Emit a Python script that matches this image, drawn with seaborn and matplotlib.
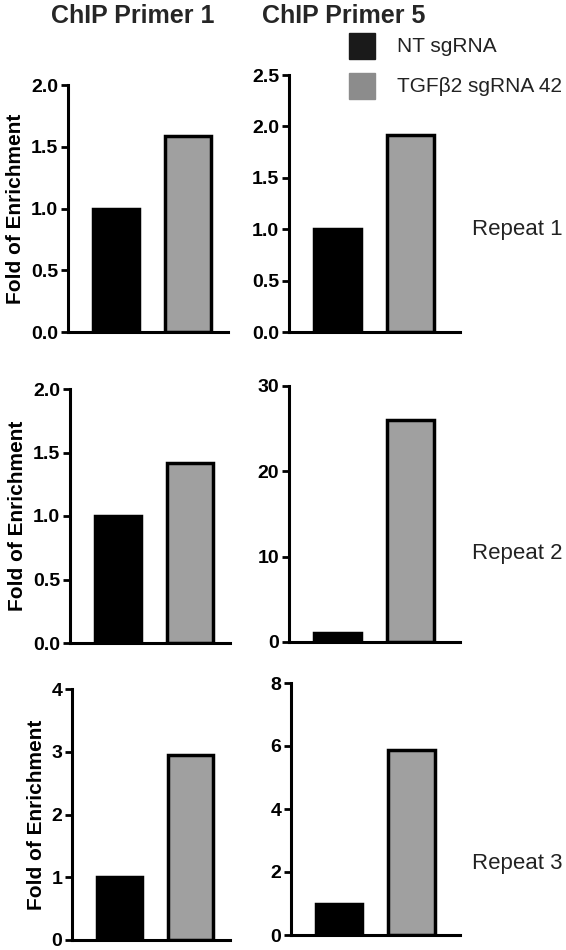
import pandas as pd
import matplotlib
matplotlib.use("Agg")
import matplotlib.pyplot as plt
import seaborn as sns

sns.set_theme(style="ticks")
plt.rcParams['font.family'] = ['Liberation Sans', 'DejaVu Sans']

groups = ['NT sgRNA', 'TGFβ2 sgRNA 42']
primers = ['ChIP Primer 1', 'ChIP Primer 5']
repeats = ['Repeat 1', 'Repeat 2', 'Repeat 3']

primer1_values = [[1.0, 1.59], [1.0, 1.42], [1.0, 2.95]]
primer5_values = [[1.0, 1.92], [1.0, 26.0], [1.0, 5.86]]

primer1_ylim = [2.0, 2.0, 4]
primer5_ylim = [2.5, 30, 8]
primer1_ticks = [[0, 0.5, 1.0, 1.5, 2.0], [0, 0.5, 1.0, 1.5, 2.0], [0, 1, 2, 3, 4]]
primer5_ticks = [[0, 0.5, 1.0, 1.5, 2.0, 2.5], [0, 10, 20, 30], [0, 2, 4, 6, 8]]

colors = {'NT sgRNA': '#000000', 'TGFβ2 sgRNA 42': '#a0a0a0'}

rows = []
for r, rep in enumerate(repeats):
    for g, grp in enumerate(groups):
        rows.append({'repeat': rep, 'primer': primers[0], 'group': grp, 'value': primer1_values[r][g]})
        rows.append({'repeat': rep, 'primer': primers[1], 'group': grp, 'value': primer5_values[r][g]})
df = pd.DataFrame(rows)

W, H = 566, 950
fig = plt.figure(figsize=(W / 100, H / 100), dpi=100)

# axes boxes in pixels: (x_left, y_top, x_right, y_bottom)
boxes = {
    (0, 0): (68, 85, 228, 332), (0, 1): (289, 75, 460, 332),
    (1, 0): (70, 389, 230, 643), (1, 1): (289, 386, 460, 642),
    (2, 0): (72, 689, 230, 940), (2, 1): (291, 683, 460, 935),
}
xlims = [(-0.67, 1.56), (-0.66, 1.67)]
label_y = {0: 230, 1: 553, 2: 863}

for r, rep in enumerate(repeats):
    for c, prim in enumerate(primers):
        x0, y0, x1, y1 = boxes[(r, c)]
        ax = fig.add_axes([x0 / W, 1 - y1 / H, (x1 - x0) / W, (y1 - y0) / H])
        sub = df[(df['repeat'] == rep) & (df['primer'] == prim)]
        sns.barplot(data=sub, x='group', y='value', hue='group', palette=colors,
                    edgecolor='black', linewidth=2.5, width=0.64, legend=False, ax=ax)
        ax.set_xlim(*xlims[c])
        top = primer1_ylim[r] if c == 0 else primer5_ylim[r]
        ticks = primer1_ticks[r] if c == 0 else primer5_ticks[r]
        ax.set_ylim(0, top)
        ax.set_yticks(ticks)
        if r < 2 and (c == 0 or r == 0):
            ax.set_yticklabels([f'{t:.1f}' for t in ticks])
        ax.set_xticks([])
        ax.set_xlabel('')
        ax.set_ylabel('Fold of Enrichment' if c == 0 else '', fontsize=15, fontweight='bold',
                      labelpad=4, color='black')
        ax.spines['top'].set_visible(False)
        ax.spines['right'].set_visible(False)
        for side in ['left', 'bottom']:
            ax.spines[side].set_linewidth(2.2)
            ax.spines[side].set_color('black')
        ax.tick_params(axis='y', length=5, width=2, labelsize=14, pad=2, color='black', labelcolor='black')
        for lab in ax.get_yticklabels():
            lab.set_fontweight('bold')
        ax.set_facecolor('white')
    fig.text(472 / W, 1 - label_y[r] / H, rep, fontsize=16, ha='left', va='center', color='#222222')

fig.text(133 / W, 1 - 16 / H, primers[0], fontsize=18, fontweight='bold', ha='center', va='center')
fig.text(344 / W, 1 - 16 / H, primers[1], fontsize=18, fontweight='bold', ha='center', va='center')

# legend
leg_colors = ['#1a1a1a', '#8c8c8c']
for i, grp in enumerate(groups):
    yc = 46 + i * 40
    fig.patches.append(plt.Rectangle((349 / W, 1 - (yc + 13) / H), 26 / W, 26 / H,
                                     transform=fig.transFigure, color=leg_colors[i]))
    fig.text(397 / W, 1 - yc / H, grp, fontsize=15, ha='left', va='center', color='#222222')

fig.savefig('out.png', dpi=100, facecolor='white')
